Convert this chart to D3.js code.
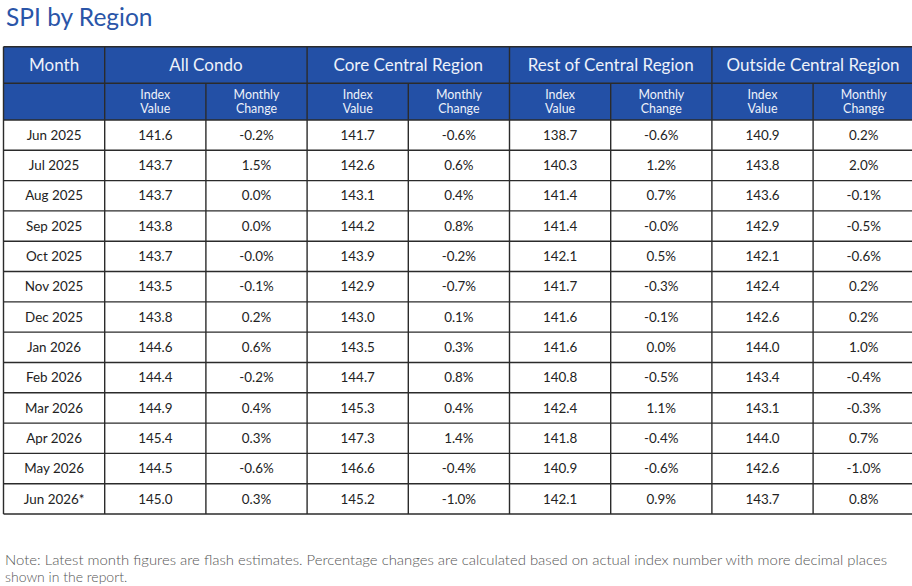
<!DOCTYPE html>
<html><head><meta charset="utf-8">
<script src="https://cdn.jsdelivr.net/npm/d3@7"></script>
<style>
html,body{margin:0;padding:0;background:#fff;}
svg{display:block;font-family:Lato,"Open Sans",sans-serif;}
</style></head>
<body><svg id="c" width="912" height="586"></svg>
<script>
const months = ["Jun 2025","Jul 2025","Aug 2025","Sep 2025","Oct 2025","Nov 2025","Dec 2025","Jan 2026","Feb 2026","Mar 2026","Apr 2026","May 2026","Jun 2026*"];
const regions = ["All Condo","Core Central Region","Rest of Central Region","Outside Central Region"];
const subHeaders = ["Index\nValue","Monthly\nChange"];
const allIndex = [141.6,143.7,143.7,143.8,143.7,143.5,143.8,144.6,144.4,144.9,145.4,144.5,145.0];
const allChange = ["-0.2%","1.5%","0.0%","0.0%","-0.0%","-0.1%","0.2%","0.6%","-0.2%","0.4%","0.3%","-0.6%","0.3%"];
const ccrIndex = [141.7,142.6,143.1,144.2,143.9,142.9,143.0,143.5,144.7,145.3,147.3,146.6,145.2];
const ccrChange = ["-0.6%","0.6%","0.4%","0.8%","-0.2%","-0.7%","0.1%","0.3%","0.8%","0.4%","1.4%","-0.4%","-1.0%"];
const rcrIndex = [138.7,140.3,141.4,141.4,142.1,141.7,141.6,141.6,140.8,142.4,141.8,140.9,142.1];
const rcrChange = ["-0.6%","1.2%","0.7%","-0.0%","0.5%","-0.3%","-0.1%","0.0%","-0.5%","1.1%","-0.4%","-0.6%","0.9%"];
const ocrIndex = [140.9,143.8,143.6,142.9,142.1,142.4,142.6,144.0,143.4,143.1,144.0,142.6,143.7];
const ocrChange = ["0.2%","2.0%","-0.1%","-0.5%","-0.6%","0.2%","0.2%","1.0%","-0.4%","-0.3%","0.7%","-1.0%","0.8%"];
const title = "SPI by Region";
const noteLines = ["Note: Latest month figures are flash estimates. Percentage changes are calculated based on actual index number with more decimal places","shown in the report."];

const svg = d3.select("#c");
const blue = "#2350a6", line = "#2b2b2b";
const colCount = 9;
const x = d3.scaleLinear().domain([0, colCount]).range([3.5, 3.5 + 101.2*colCount]);
const headTop = 46.7, h1 = 83.3, h2 = 120, rowBottom = 514;
const y = d3.scaleBand().domain(months).range([h2, rowBottom]);

svg.append("text").attr("x",6).attr("y",26).attr("fill","#2a55a8")
  .attr("font-size",24.5).text(title);

svg.append("rect").attr("x",x(0)).attr("y",headTop).attr("width",x(colCount)-x(0)).attr("height",h2-headTop).attr("fill",blue);

const fmt = d3.format(".1f");
const cols = [[allIndex,allChange],[ccrIndex,ccrChange],[rcrIndex,rcrChange],[ocrIndex,ocrChange]];
const g = svg.append("g").attr("font-size",13.4).attr("fill","#222").attr("text-anchor","middle");
months.forEach((m,i)=>{
  const cy = y(m) + y.bandwidth()/2 + 4.7;
  g.append("text").attr("x",(x(0)+x(1))/2).attr("y",cy).text(m);
  cols.forEach((pair,r)=>{
    g.append("text").attr("x",(x(1+2*r)+x(2+2*r))/2).attr("y",cy).text(fmt(pair[0][i]));
    g.append("text").attr("x",(x(2+2*r)+x(3+2*r))/2).attr("y",cy).text(pair[1][i]);
  });
});

const hc = "#eef2fa";
svg.append("text").attr("x",(x(0)+x(1))/2).attr("y",(headTop+h1)/2+6).attr("text-anchor","middle").attr("font-size",17).attr("fill",hc).text("Month");
regions.forEach((r,k)=>{
  svg.append("text").attr("x",(x(1+2*k)+x(3+2*k))/2).attr("y",(headTop+h1)/2+6).attr("text-anchor","middle").attr("font-size",17).attr("fill",hc).text(r);
  subHeaders.forEach((s,j)=>{
    const cx = (x(1+2*k+j)+x(2+2*k+j))/2;
    s.split("\n").forEach((ln,li)=>{
      svg.append("text").attr("x",cx).attr("y",99 + li*14.4).attr("text-anchor","middle")
        .attr("font-size",12.4).attr("fill",hc).text(ln);
    });
  });
});

const lines = svg.append("g").attr("stroke",line).attr("stroke-width",1.4).attr("fill","none");
[headTop,h1,h2].concat(months.map(m=>y(m)+y.bandwidth())).forEach(v=>{
  lines.append("line").attr("x1",x(0)).attr("x2",x(colCount)).attr("y1",v).attr("y2",v);
});
d3.range(0,colCount+1).forEach(c=>{
  const top = (c===0 || c%2===1) ? headTop : h1;
  lines.append("line").attr("x1",x(c)).attr("x2",x(c)).attr("y1",top).attr("y2",rowBottom);
});

noteLines.forEach((t,i)=>{
  const tx = svg.append("text").attr("x",5).attr("y",565+i*17).attr("font-size",14).attr("fill","#555").attr("font-weight",300).text(t);
  if(i===0) tx.attr("textLength",882).attr("lengthAdjust","spacingAndGlyphs");
});
</script></body></html>
